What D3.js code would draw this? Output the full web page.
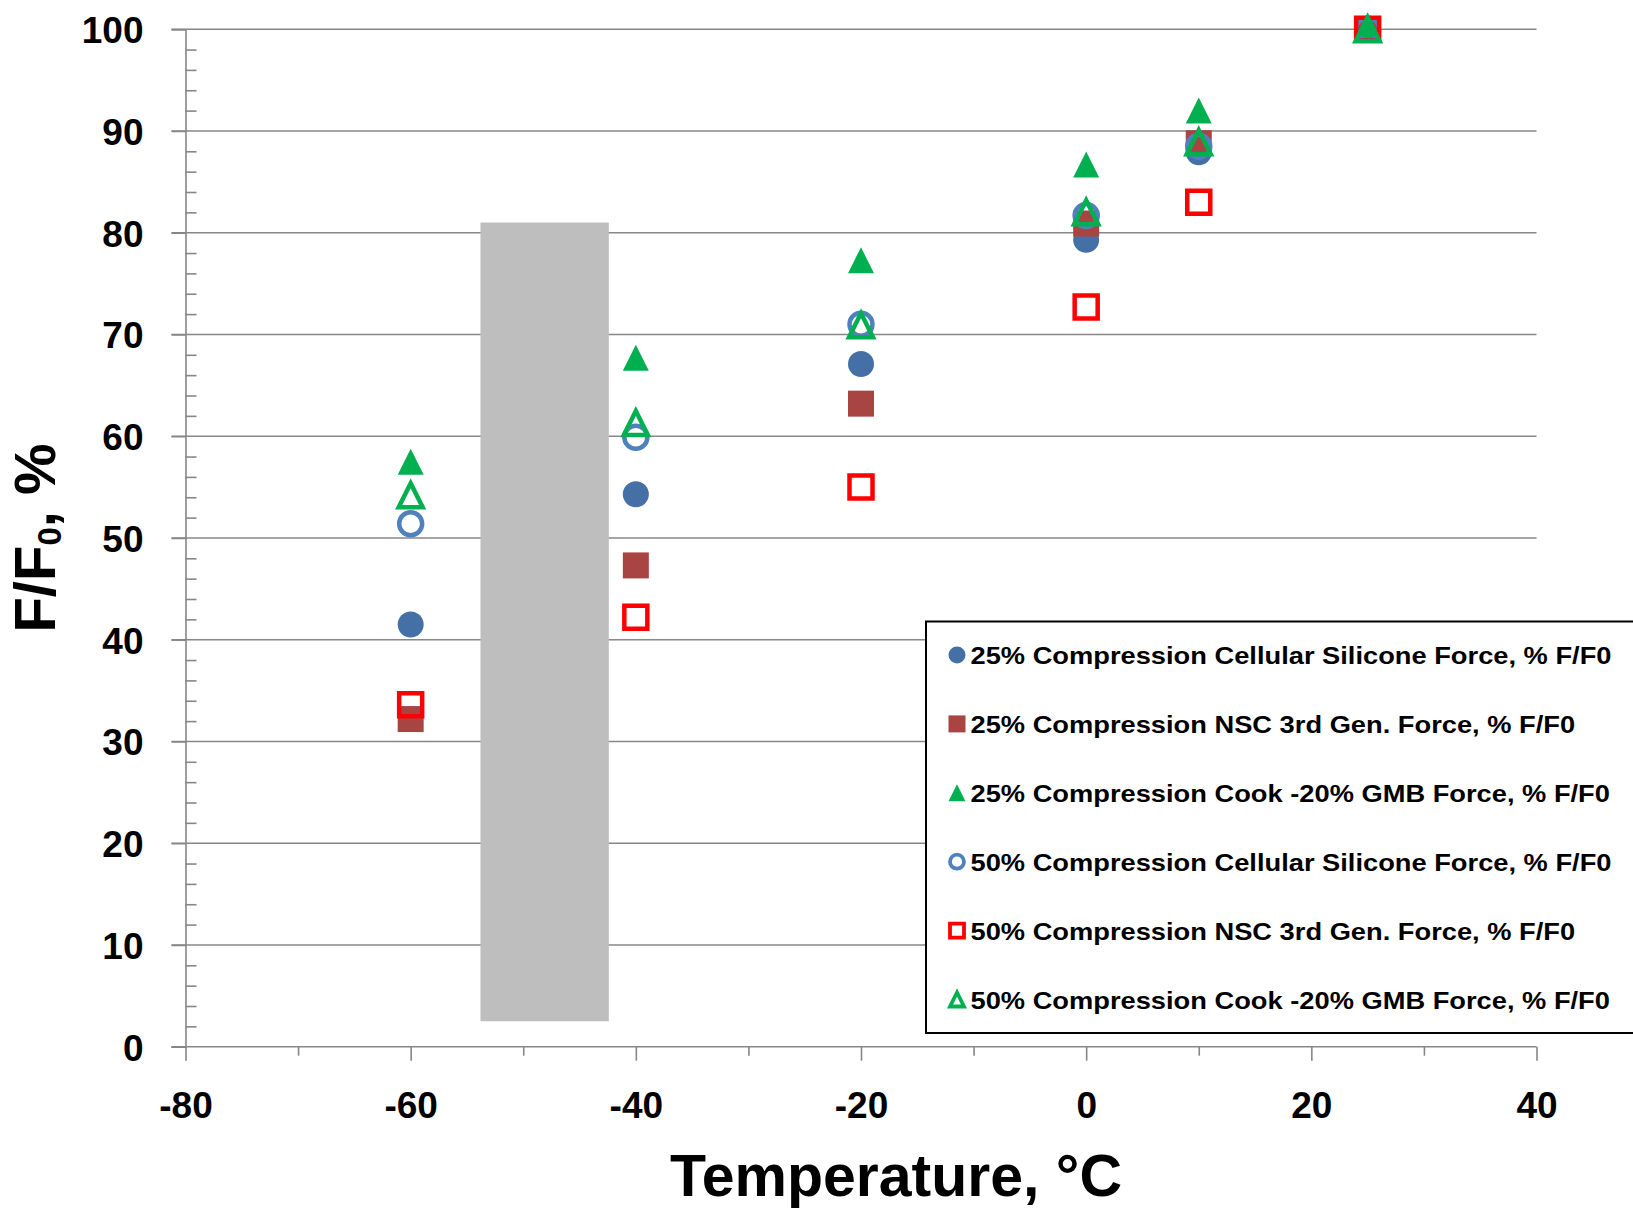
<!DOCTYPE html>
<html>
<head>
<meta charset="utf-8">
<script src="https://cdn.jsdelivr.net/npm/d3@7"></script>
<style>
  html, body { margin: 0; padding: 0; background: #ffffff; }
  svg { display: block; }
  text { font-family: "Liberation Sans", Arial, sans-serif; font-weight: bold; fill: #000; }
</style>
</head>
<body>
<svg id="chart" width="1633" height="1208"></svg>
<script>
// ---- data ----
const temps = [-60, -40, -20, 0, 10, 25];
const cs25   = [41.5, 54.3, 67.1, 79.3, 87.9, 100];
const nsc25  = [32.2, 47.3, 63.2, 80.9, 88.8, 100];
const cook25 = [57.5, 67.7, 77.3, 86.7, 92.0, 100];
const cs50   = [51.4, 59.9, 71.0, 81.7, 88.5, 100];
const nsc50  = [33.6, 42.2, 55.0, 72.7, 83.0, 100];
const cook50 = [54.2, 61.3, 70.9, 82.0, 88.9, 100];
const seriesNames = [
  "25% Compression Cellular Silicone Force, % F/F0",
  "25% Compression NSC 3rd Gen. Force, % F/F0",
  "25% Compression Cook -20% GMB Force, % F/F0",
  "50% Compression Cellular Silicone Force, % F/F0",
  "50% Compression NSC 3rd Gen. Force, % F/F0",
  "50% Compression Cook -20% GMB Force, % F/F0"
];
const bandX = [-53.8, -42.4];   // shaded temperature band
const bandY = [2.5, 81];
const xTicks = [-80, -60, -40, -20, 0, 20, 40];
const xMinorTicks = [-70, -50, -30, -10, 10, 30];
const yTicks = [0, 10, 20, 30, 40, 50, 60, 70, 80, 90, 100];

// ---- styles ----
const series = [
  {values: cs25,   shape: "circle",   fill: "#4570A6", stroke: null},
  {values: nsc25,  shape: "square",   fill: "#A84542", stroke: null},
  {values: cook25, shape: "triangle", fill: "#00B050", stroke: null},
  {values: cs50,   shape: "circle",   fill: "none",    stroke: "#4F81BD"},
  {values: nsc50,  shape: "square",   fill: "none",    stroke: "#FF0000"},
  {values: cook50, shape: "triangle", fill: "none",    stroke: "#00B050"}
];

const svg = d3.select("#chart");
svg.append("rect").attr("width", 1633).attr("height", 1208).attr("fill", "#fff");

const x = d3.scaleLinear().domain([-80, 40]).range([185.5, 1536.5]);
const y = d3.scaleLinear().domain([0, 100]).range([1046.7, 29.2]);
const axisColor = "#878787";

// gridlines (incl. outward major tick on the left)
svg.append("g").selectAll("line").data(yTicks).join("line")
  .attr("x1", x(-80) - 14).attr("x2", x(40))
  .attr("y1", d => y(d)).attr("y2", d => y(d))
  .attr("stroke", axisColor).attr("stroke-width", 1.6);

// y axis
const yAxis = svg.append("g").attr("transform", `translate(${x(-80)},0)`)
  .call(d3.axisLeft(y).tickValues(yTicks).tickSize(14).tickPadding(0).tickFormat(d => String(d)));
yAxis.select(".domain").attr("stroke", axisColor).attr("stroke-width", 1.6);
yAxis.selectAll(".tick line").attr("stroke", axisColor).attr("stroke-width", 1.6);
yAxis.selectAll(".tick text")
  .attr("x", -42).attr("dy", "0.36em")
  .style("font-size", "37px").style("font-family", "'Liberation Sans', Arial, sans-serif")
  .style("font-weight", "bold").attr("fill", "#000");
const yMinor = d3.range(0, 101, 2).filter(v => v % 10 !== 0);
const yAxisMinor = svg.append("g").attr("transform", `translate(${x(-80)},0)`)
  .call(d3.axisRight(y).tickValues(yMinor).tickSize(11).tickFormat(""));
yAxisMinor.select(".domain").remove();
yAxisMinor.selectAll(".tick line").attr("stroke", axisColor).attr("stroke-width", 1.6);

// x axis
const xAxis = svg.append("g").attr("transform", `translate(0,${y(0)})`)
  .call(d3.axisBottom(x).tickValues(xTicks).tickSize(14).tickFormat(d => String(d)));
xAxis.select(".domain").remove();
xAxis.selectAll(".tick line").attr("stroke", axisColor).attr("stroke-width", 1.6);
xAxis.selectAll(".tick text")
  .attr("y", 71).attr("dy", 0)
  .style("font-size", "37px").style("font-family", "'Liberation Sans', Arial, sans-serif")
  .style("font-weight", "bold").attr("fill", "#000");
const xAxisMinor = svg.append("g").attr("transform", `translate(0,${y(0)})`)
  .call(d3.axisBottom(x).tickValues(xMinorTicks).tickSize(9).tickFormat(""));
xAxisMinor.select(".domain").remove();
xAxisMinor.selectAll(".tick line").attr("stroke", axisColor).attr("stroke-width", 1.6);

// shaded band
svg.append("rect")
  .attr("x", x(bandX[0])).attr("width", x(bandX[1]) - x(bandX[0]))
  .attr("y", y(bandY[1])).attr("height", y(bandY[0]) - y(bandY[1]))
  .attr("fill", "#BEBEBE");

// marker path generator
function markerPath(shape, s) {
  const h = s / 2;
  if (shape === "circle") return d3.symbol(d3.symbolCircle, Math.PI * h * h)();
  if (shape === "square") return `M${-h},${-h}H${h}V${h}H${-h}Z`;
  return `M0,${-h}L${h},${h}L${-h},${h}Z`;
}

series.forEach(s => {
  const open = s.fill === "none";
  const size = open ? (s.shape === "triangle" ? 24 : 23) : 26;
  svg.append("g").selectAll("path").data(temps.map((t, i) => [t, s.values[i]])).join("path")
    .attr("transform", d => `translate(${x(d[0])},${y(d[1])})`)
    .attr("d", markerPath(s.shape, size))
    .attr("fill", s.fill)
    .attr("stroke", s.stroke || "none")
    .attr("stroke-width", open ? 4.5 : 0)
    .attr("stroke-linejoin", "miter");
});

// legend
const lg = svg.append("g");
lg.append("rect").attr("x", 926).attr("y", 621.5).attr("width", 760).attr("height", 411.5)
  .attr("fill", "#fff").attr("stroke", "#000").attr("stroke-width", 2);
const rowY = d3.range(6).map(i => 655 + i * 68.9);
const texts = [];
series.forEach((s, i) => {
  const open = s.fill === "none";
  lg.append("path")
    .attr("transform", `translate(957,${rowY[i]})`)
    .attr("d", markerPath(s.shape, open ? 14 : 17))
    .attr("fill", s.fill).attr("stroke", s.stroke || "none")
    .attr("stroke-width", open ? 3.8 : 0);
  const t = lg.append("text").attr("x", 970.5).attr("y", rowY[i] + 9)
    .style("font-size", "24px").text(seriesNames[i]);
  texts.push(t);
});
const w0 = texts[0].node().getComputedTextLength();
const k = 641 / w0;
texts.forEach(t => {
  const w = t.node().getComputedTextLength();
  t.attr("textLength", w * k).attr("lengthAdjust", "spacingAndGlyphs");
});

// axis titles
svg.append("text").attr("x", 896).attr("y", 1196).attr("text-anchor", "middle")
  .style("font-size", "59px").text("Temperature, °C");
const yt = svg.append("text").attr("transform", "translate(55,538) rotate(-90)")
  .attr("text-anchor", "middle").style("font-size", "58px");
yt.append("tspan").text("F/F");
yt.append("tspan").attr("dy", 6).style("font-size", "33px").text("0");
yt.append("tspan").attr("dy", -6).text(", %");
</script>
</body>
</html>
